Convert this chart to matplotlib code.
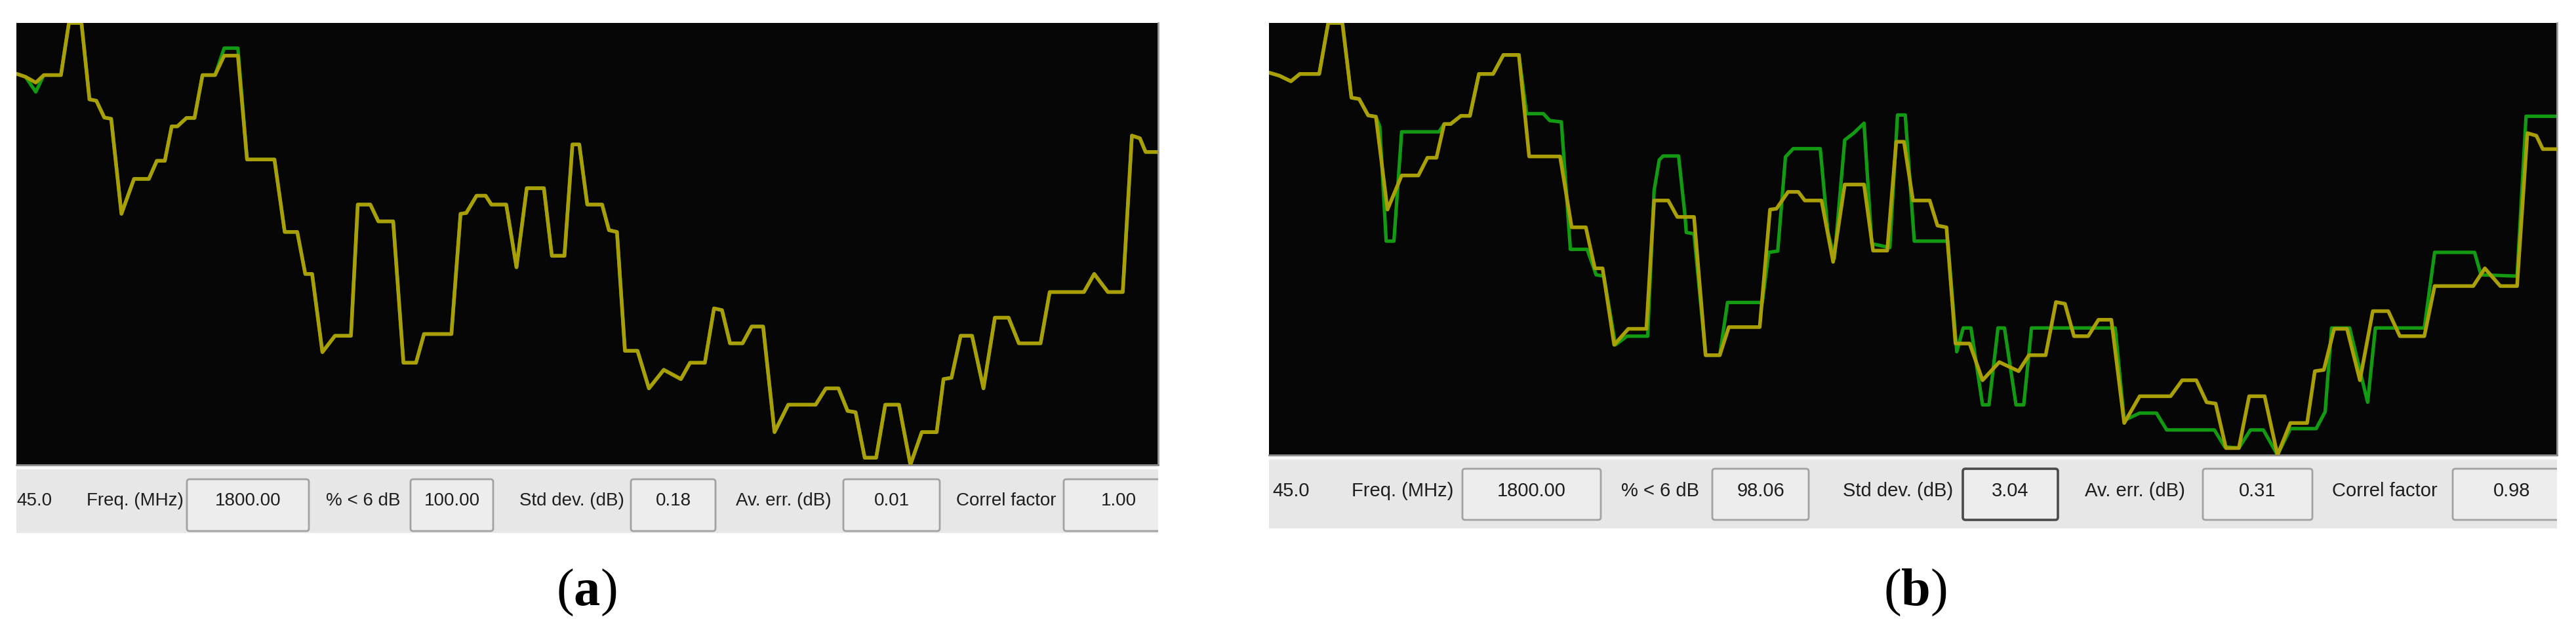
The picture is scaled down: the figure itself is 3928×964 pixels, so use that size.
import matplotlib.pyplot as plt
from matplotlib.patches import FancyBboxPatch, Rectangle

# trace position (% of width) and level (% of plot height)
pos = [0, 0.8, 1.7, 2.4, 3.9, 4.6, 5.7, 6.4, 7.0, 7.7,
       8.3, 9.2, 10.3, 11.6, 12.3, 13.0, 13.6, 14.1, 14.9, 15.6,
       16.3, 17.4, 18.2, 19.4, 20.2, 22.6, 23.5, 24.6, 25.3, 25.9,
       26.8, 27.9, 29.3, 29.9, 31.0, 31.7, 33.0, 33.9, 35.0, 35.7,
       38.1, 38.9, 39.4, 40.3, 41.1, 41.6, 42.9, 43.8, 44.7, 46.2,
       46.9, 48.0, 48.7, 49.3, 50.0, 51.3, 51.9, 52.6, 53.3, 54.4,
       55.4, 56.7, 58.2, 59.0, 60.3, 61.1, 61.8, 62.5, 63.6, 64.4,
       65.4, 66.4, 67.6, 70.0, 70.9, 72.0, 72.8, 73.5, 74.3, 75.3,
       76.1, 77.3, 78.3, 79.3, 80.6, 81.2, 81.9, 82.7, 83.7, 84.7,
       85.7, 86.9, 87.8, 89.7, 90.5, 93.5, 94.4, 95.6, 96.9, 97.7,
       98.4, 98.9, 100]
predicted = [88.5, 87.8, 86.5, 88.2, 88.2, 100, 100, 82.7, 82.4, 78.6,
             78.3, 56.8, 64.7, 64.7, 68.8, 68.8, 76.6, 76.6, 78.5, 78.5,
             88.2, 88.2, 92.6, 92.6, 69.1, 69.1, 52.7, 52.7, 43.2, 43.2,
             25.5, 29.2, 29.2, 58.9, 58.9, 55.1, 55.1, 23.1, 23.1, 29.6,
             29.6, 56.8, 57.0, 60.9, 60.9, 58.9, 58.9, 44.7, 62.6, 62.6,
             47.3, 47.3, 72.5, 72.5, 58.9, 58.9, 53.1, 52.7, 25.8, 25.8,
             17.3, 21.5, 19.4, 23.1, 23.1, 35.4, 35.0, 27.5, 27.5, 31.3,
             31.3, 7.4, 13.6, 13.6, 17.3, 17.3, 12.2, 11.9, 1.6, 1.6,
             13.6, 13.6, 0, 7.4, 7.4, 19.4, 19.7, 29.2, 29.2, 17.3,
             33.3, 33.3, 27.5, 27.5, 39.1, 39.1, 43.2, 39.1, 39.1, 74.5,
             73.9, 70.8, 70.8]
measured_a = [88.5, 87.8, 84.4, 88.2, 88.2, 100, 100, 82.7, 82.4, 78.6,
              78.3, 56.8, 64.7, 64.7, 68.8, 68.8, 76.6, 76.6, 78.5, 78.5,
              88.2, 88.2, 94.3, 94.3, 69.1, 69.1, 52.7, 52.7, 43.2, 43.2,
              25.5, 29.2, 29.2, 58.9, 58.9, 55.1, 55.1, 23.1, 23.1, 29.6,
              29.6, 56.8, 57.0, 60.9, 60.9, 58.9, 58.9, 44.7, 62.6, 62.6,
              47.3, 47.3, 72.5, 72.5, 58.9, 58.9, 53.1, 52.7, 25.8, 25.8,
              17.3, 21.5, 19.4, 23.1, 23.1, 35.4, 35.0, 27.5, 27.5, 31.3,
              31.3, 7.4, 13.6, 13.6, 17.3, 17.3, 12.2, 11.9, 1.6, 1.6,
              13.6, 13.6, 0, 7.4, 7.4, 19.4, 19.7, 29.2, 29.2, 17.3,
              33.3, 33.3, 27.5, 27.5, 39.1, 39.1, 43.2, 39.1, 39.1, 74.5,
              73.9, 70.8, 70.8]

pos_b = [0, 0.8, 1.7, 2.4, 3.9, 4.6, 5.7, 6.4, 7.0, 7.7,
         8.3, 8.6, 9.1, 9.7, 10.3, 13.2, 13.6, 14.1, 14.9, 15.6,
         16.3, 17.4, 18.2, 19.4, 20.0, 21.3, 21.8, 22.7, 23.4, 24.7,
         25.4, 26.0, 26.9, 27.8, 29.4, 29.9, 30.3, 30.6, 31.8, 32.3,
         32.4, 33.0, 33.9, 35.0, 35.6, 38.3, 38.8, 39.5, 40.1, 40.7,
         42.8, 43.4, 43.9, 44.7, 45.4, 46.2, 46.8, 48.2, 48.8, 49.4,
         50.1, 52.7, 53.4, 53.9, 54.5, 55.4, 55.9, 56.6, 57.1, 58.0,
         58.6, 59.2, 65.7, 66.4, 67.6, 68.9, 69.7, 73.4, 74.2, 75.3,
         76.2, 77.2, 78.3, 79.3, 81.3, 82.0, 82.5, 83.9, 84.9, 85.3,
         85.9, 89.7, 90.5, 93.6, 94.1, 96.9, 97.6, 100]
measured_b = [88.5, 87.8, 86.5, 88.2, 88.2, 100, 100, 82.7, 82.4, 78.6,
              78.3, 76.0, 49.5, 49.5, 74.8, 74.8, 76.6, 76.6, 78.5, 78.5,
              88.2, 88.2, 92.6, 92.6, 79.0, 79.0, 77.4, 77.1, 47.6, 47.6,
              41.7, 41.4, 25.5, 27.5, 27.5, 61.2, 68.3, 69.2, 69.2, 55.4,
              51.5, 51.2, 23.1, 23.1, 35.3, 35.3, 46.9, 47.2, 69.0, 70.9,
              70.9, 51.5, 45.5, 72.9, 74.5, 76.8, 48.9, 48.0, 78.7, 78.7,
              49.5, 49.5, 23.9, 29.4, 29.4, 11.6, 11.6, 29.4, 29.4, 11.6,
              11.6, 29.4, 29.4, 8.0, 9.7, 9.7, 5.8, 5.8, 1.9, 1.6,
              5.8, 5.8, 0, 6.1, 6.1, 10.0, 29.4, 29.4, 17.1, 12.2,
              29.4, 29.4, 46.9, 46.9, 41.7, 41.4, 78.4, 78.4]

labels = ['Freq. (MHz)', '% < 6 dB', 'Std dev. (dB)', 'Av. err. (dB)', 'Correl factor']
values_a = ['1800.00', '100.00', '0.18', '0.01', '1.00']
values_b = ['1800.00', '98.06', '3.04', '0.31', '0.98']

W, H = 3928, 964
YELLOW = '#aa9f06'
GREEN = '#129a12'


def px(x0, y0, x1, y1):
    return [x0 / W, 1 - y1 / H, (x1 - x0) / W, (y1 - y0) / H]


fig = plt.figure(figsize=(W / 100, H / 100), dpi=100)
fig.patch.set_facecolor('white')


def trace_panel(rect, x_meas, y_meas):
    ax = fig.add_axes(px(*rect))
    ax.set_facecolor('#060606')
    ax.plot(x_meas, y_meas, color=GREEN, lw=3.8, solid_joinstyle='round',
            solid_capstyle='round', zorder=2)
    ax.plot(pos, predicted, color=YELLOW, lw=4.0, solid_joinstyle='round',
            solid_capstyle='round', zorder=3)
    ax.set_xlim(0, 100)
    ax.set_ylim(0, 100)
    ax.set_xticks([])
    ax.set_yticks([])
    for s in ['top', 'left']:
        ax.spines[s].set_visible(False)
    ax.spines['bottom'].set_color('#8a8a8a')
    ax.spines['right'].set_color('#9a9a9a')
    ax.spines['bottom'].set_linewidth(2)
    ax.spines['right'].set_linewidth(2)
    return ax


def status_bar(rect, ytext, box_y, label_x, boxes, values, fsize, focus=None):
    x0, y0, x1, y1 = rect
    ax = fig.add_axes(px(*rect))
    ax.set_xlim(x0, x1)
    ax.set_ylim(y1, y0)
    ax.axis('off')
    ax.add_patch(Rectangle((x0, y0), x1 - x0, y1 - y0, facecolor='#e7e7e7',
                           edgecolor='none', zorder=0))
    ax.plot([x0, x1], [y0 + 3, y0 + 3], color='#fafafa', lw=3, zorder=1)
    ax.text(label_x[0], ytext, '45.0', ha='right', va='center', fontsize=fsize,
            family='Liberation Sans', color='#1e1e1e', clip_on=True)
    for i, lab in enumerate(labels):
        ax.text(label_x[i + 1], ytext, lab, ha='center', va='center', fontsize=fsize,
                family='Liberation Sans', color='#1e1e1e', clip_on=True)
        bx0, bx1 = boxes[i]
        ec, lw = ('#4a4a4a', 2.6) if i == focus else ('#a2a2a2', 2)
        ax.add_patch(FancyBboxPatch((bx0, box_y[0]), bx1 - bx0, box_y[1] - box_y[0],
                                    boxstyle='round,pad=0,rounding_size=4',
                                    facecolor='#ededed', edgecolor=ec, lw=lw, zorder=2))
        ax.text((bx0 + bx1) / 2, ytext, values[i], ha='center', va='center',
                fontsize=fsize, family='Liberation Sans', color='#1e1e1e',
                clip_on=True, zorder=3)


trace_panel((25, 35, 1766, 709), pos, measured_a)
trace_panel((1935, 35, 3899, 694), pos_b, measured_b)

status_bar((25, 711, 1766, 813), 764, (731, 810),
           [80, 206, 554, 872, 1195, 1534],
           [(285, 471), (626, 752), (962, 1091), (1286, 1433), (1622, 1790)],
           values_a, 20)
status_bar((1935, 696, 3899, 806), 749, (715, 793),
           [1997, 2139, 2531, 2894, 3255, 3636],
           [(2230, 2441), (2611, 2758), (2993, 3138), (3359, 3526), (3740, 3920)],
           values_b, 21, focus=2)

plt.rcParams['mathtext.fontset'] = 'custom'
plt.rcParams['mathtext.rm'] = 'Liberation Serif'
plt.rcParams['mathtext.bf'] = 'Liberation Serif:bold'
fig.text(894 / W, 1 - 903 / H, r'$(\mathbf{a})$', ha='center', va='center', fontsize=58)
fig.text(2920 / W, 1 - 903 / H, r'$(\mathbf{b})$', ha='center', va='center', fontsize=58)

fig.savefig('out.png', dpi=100, facecolor='white')
